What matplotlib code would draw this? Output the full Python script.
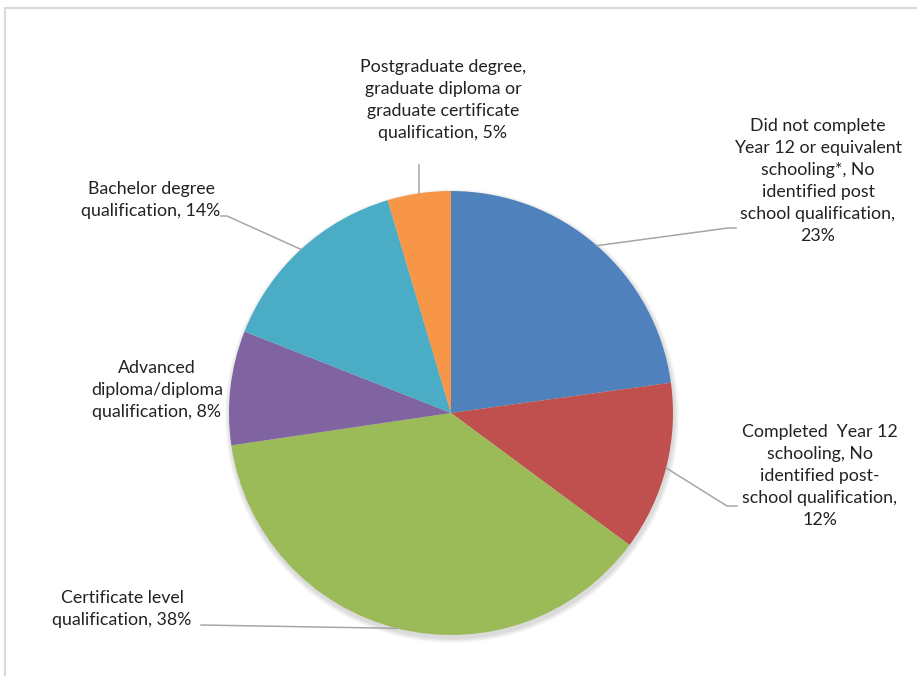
import matplotlib.pyplot as plt
import numpy as np
from matplotlib.patches import Rectangle, Circle

# slices, clockwise from 12 o'clock
categories = [
    "Did not complete\nYear 12 or equivalent\nschooling*, No\nidentified post\nschool qualification,",
    "Completed  Year 12\nschooling, No\nidentified post-\nschool qualification,",
    "Certificate level\nqualification,",
    "Advanced\ndiploma/diploma\nqualification,",
    "Bachelor degree\nqualification,",
    "Postgraduate degree,\ngraduate diploma or\ngraduate certificate\nqualification,",
]
values = [22.8, 12.3, 37.5, 8.3, 14.4, 4.6]
pct_labels = ["23%", "12%", "38%", "8%", "14%", "5%"]
colors = ["#4F81BD", "#C0504D", "#9BBB59", "#8064A2", "#4BACC6", "#F79646"]

# label joiner: newline if the category ends a line on its own, else space
joiners = ["\n", "\n", " ", " ", " ", " "]

plt.rcParams['font.family'] = ['Lato', 'DejaVu Sans']

W, H = 917, 676
fig = plt.figure(figsize=(W / 100, H / 100), dpi=100)
ax = fig.add_axes([0, 0, 1, 1])


def py(y):
    # pixel row (from top) -> data y
    return H - y


cx, cy, r = 451, py(413), 222

# soft shadow
for k in range(6):
    ax.add_patch(Circle((cx + 1, cy - 3), r + 1 + k * 0.8, color='black',
                        alpha=0.025, lw=0, zorder=0))

wedges, _ = ax.pie(values, colors=colors, startangle=90, counterclock=False,
                   center=(cx, cy), radius=r, frame=True,
                   wedgeprops=dict(linewidth=0))
ax.set_xlim(0, W)
ax.set_ylim(0, H)
ax.set_aspect('equal')
ax.axis('off')

# label layout: text centre and leader elbow points (pixels from top-left)
label_pos = [(818, 181), (820, 476), (122, 609), (157, 390), (151, 200), (443, 100)]
elbows = [
    [(728, 228), (736, 228)],
    [(727, 506), (737, 506)],
    [(201, 625)],
    None,
    [(227, 216), (221, 216)],
    [(419, 165)],
]

for w, cat, j, pct, (lx, ly), el in zip(wedges, categories, joiners,
                                        pct_labels, label_pos, elbows):
    ax.text(lx, py(ly), cat + j + pct, ha='center', va='center',
            multialignment='center', fontsize=12.8, color='#222222',
            linespacing=1.45)
    if el is None:
        continue
    mid = np.deg2rad((w.theta1 + w.theta2) / 2)
    xs = [cx + r * np.cos(mid)] + [p[0] for p in el]
    ys = [cy + r * np.sin(mid)] + [py(p[1]) for p in el]
    ax.plot(xs, ys, color='#A6A6A6', lw=1.1, zorder=3)

# chart area border
fig.patches.append(Rectangle((5 / W, -0.1), 1.2, 1.1 - 8 / H, transform=fig.transFigure,
                             fill=False, edgecolor='#D9D9D9', lw=1.5))

fig.savefig('out.png', dpi=100)
